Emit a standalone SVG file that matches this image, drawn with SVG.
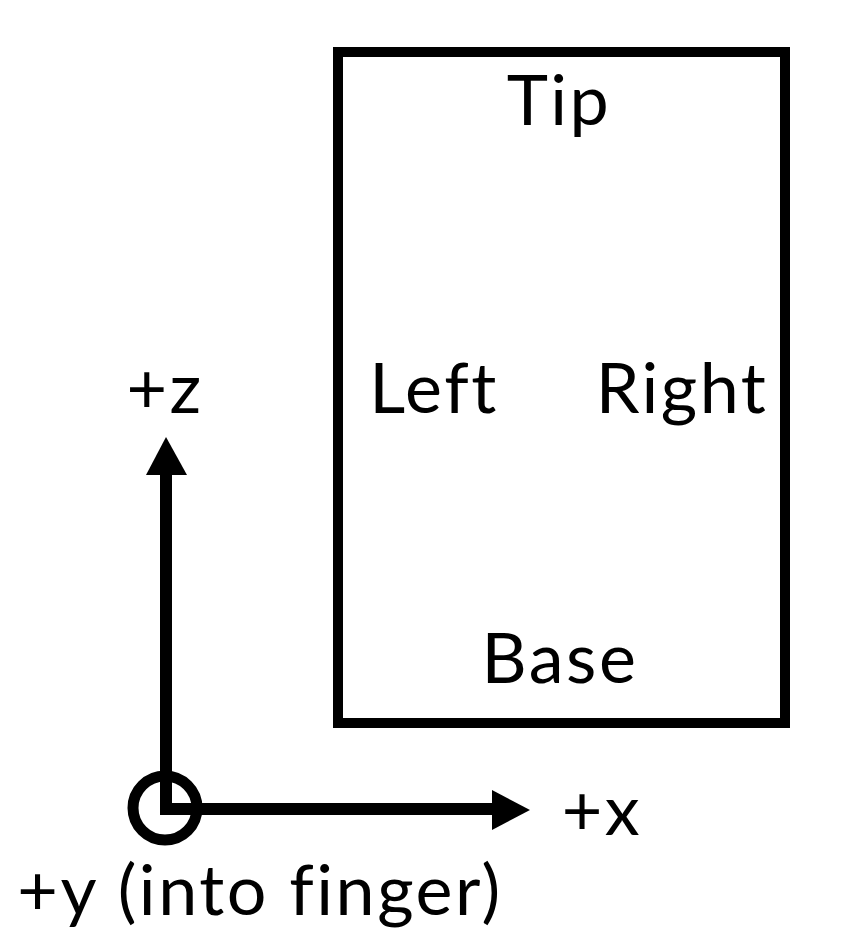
<svg xmlns="http://www.w3.org/2000/svg" width="850" height="944" viewBox="0 0 850 944">
<style>
text{font-family:Lato,"Open Sans",sans-serif;font-size:70px;fill:#000;text-anchor:middle;letter-spacing:2.5px;font-variant-ligatures:none}
.ln{stroke:#000;stroke-width:12;fill:none}
</style>
<rect width="850" height="944" fill="#fff"/>
<g id="finger">
<rect x="338" y="52" width="447" height="671" fill="none" stroke="#000" stroke-width="10"/>
<text x="559" y="125">Tip</text>
<text x="434" y="413">Left</text>
<text x="682" y="413">Right</text>
<text x="560" y="683">Base</text>
</g>
<g id="axes">
<circle cx="165" cy="808" r="32" fill="none" stroke="#000" stroke-width="11"/>
<path class="ln" d="M166 472 V809 H495"/>
<polygon points="166,437 146,475 187,475"/>
<polygon points="530,810 492,790 492,830"/>
<text x="165" y="413">+z</text>
<text x="602" y="835">+x</text>
<text x="260" y="915">+y (into finger)</text>
</g>
</svg>
